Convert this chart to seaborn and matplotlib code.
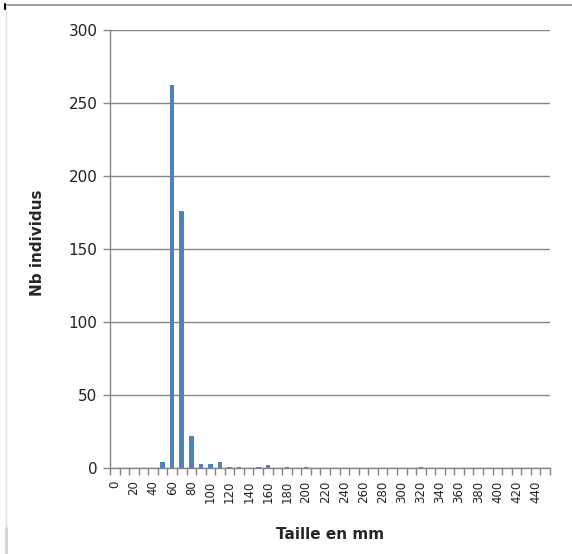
import matplotlib
matplotlib.use("Agg")
import matplotlib.pyplot as plt
from matplotlib.lines import Line2D
from matplotlib.ticker import FixedLocator
import numpy as np
import pandas as pd
import seaborn as sns

# Size classes (mm) and counts per class
tailles = list(range(0, 460, 10))
effectifs_non_nuls = {50: 4, 60: 262, 70: 176, 80: 22, 90: 3, 100: 3, 110: 4,
                      120: 0.5, 130: 0.5, 150: 0.5, 160: 2, 180: 0.5,
                      200: 0.5, 320: 0.5}
effectifs = [effectifs_non_nuls.get(t, 0) for t in tailles]
y_ticks = [0, 50, 100, 150, 200, 250, 300]

sns.set_theme(style="white")
plt.rcParams["font.family"] = ["DejaVu Sans"]

W, H, DPI = 572, 554, 100
fig = plt.figure(figsize=(W / DPI, H / DPI), dpi=DPI)
ax = fig.add_axes([110 / W, 1 - 468 / H, 440 / W, 438 / H])

df = pd.DataFrame({"taille": [str(t) for t in tailles], "n": effectifs})
sns.barplot(data=df, x="taille", y="n", order=[str(t) for t in tailles],
            color="#4F81BD", saturation=1, width=0.48, ax=ax, zorder=3,
            edgecolor="none", linewidth=0)

grid_col = "#868686"
ax.set_xlim(-0.5, len(tailles) - 0.5)
ax.set_ylim(0, 300)
ax.set_yticks(y_ticks)
ax.set_yticklabels([str(v) for v in y_ticks], fontsize=11, color="#222222")
ax.yaxis.grid(True, color=grid_col, linewidth=1.0, zorder=0)
ax.xaxis.grid(False)

# labels every other class, tick marks on class boundaries
ax.set_xticks(range(0, len(tailles), 2))
ax.set_xticklabels([str(t) for t in tailles[::2]], rotation=90,
                   fontsize=8.5, color="#222222", va="top", ha="center")
ax.tick_params(axis="x", which="major", length=0, pad=9)
ax.xaxis.set_minor_locator(FixedLocator(np.arange(-0.5, len(tailles), 1.0)))
ax.tick_params(axis="x", which="minor", bottom=True, length=5, width=1,
               color=grid_col, direction="out")
ax.tick_params(axis="y", which="major", left=True, length=5, width=1,
               color=grid_col, direction="out", pad=4)

for side in ("top", "right"):
    ax.spines[side].set_visible(False)
for side in ("left", "bottom"):
    ax.spines[side].set_color(grid_col)
    ax.spines[side].set_linewidth(1.0)
    ax.spines[side].set_zorder(4)

ax.set_xlabel("Taille en mm", fontsize=11, fontweight="bold", labelpad=8)
ax.set_ylabel("Nb individus", fontsize=11, fontweight="bold", labelpad=10)
ax.xaxis.set_label_coords((330 - 110) / 440, -(527 - 468) / 438)
ax.yaxis.set_label_coords(-(110 - 45) / 440, (468 - 243) / 438)

# outer chart frame (partially visible)
fig.add_artist(Line2D([5 / W, 1], [1 - 5 / H, 1 - 5 / H], color="#8a8a8a",
                      linewidth=1.2, transform=fig.transFigure))
fig.add_artist(Line2D([6 / W, 6 / W], [1 - 5 / H, 1 - 528 / H], color="#e0e0e0",
                      linewidth=1.0, transform=fig.transFigure))
fig.add_artist(Line2D([6 / W, 6 / W], [1 - 528 / H, 0], color="#cfcfcf",
                      linewidth=2.0, transform=fig.transFigure))
fig.add_artist(Line2D([5 / W, 5 / W], [1 - 4 / H, 1 - 9 / H], color="black",
                      linewidth=1.5, transform=fig.transFigure))

fig.savefig("out.png", dpi=DPI)
